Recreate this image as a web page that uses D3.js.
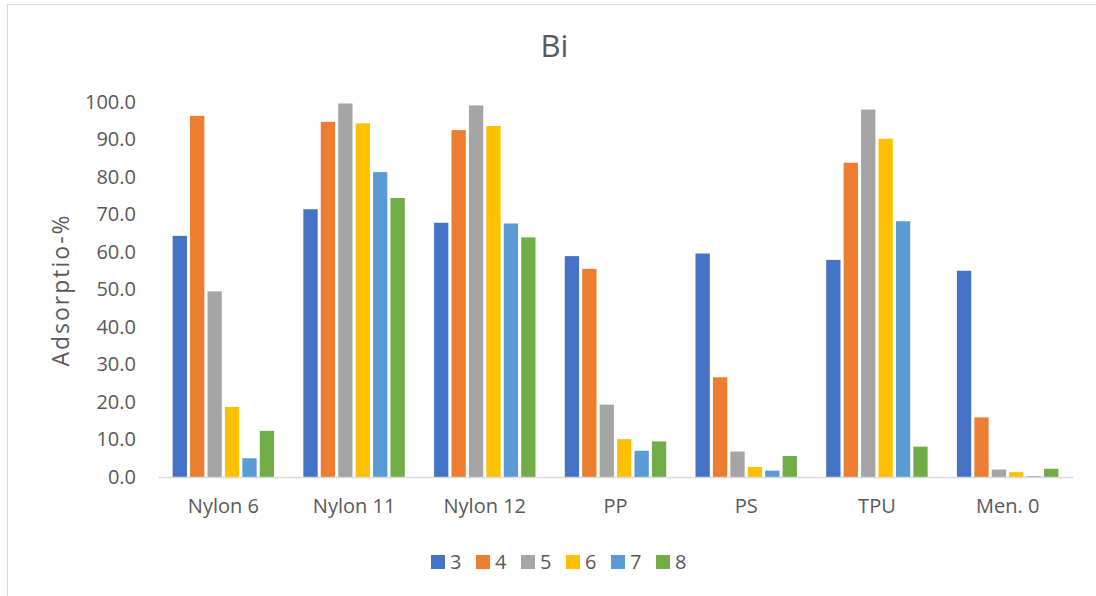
<!DOCTYPE html>
<html>
<head>
<meta charset="utf-8">
<script src="https://cdn.jsdelivr.net/npm/d3@7"></script>
<style>
  html, body { margin: 0; padding: 0; background: #fff; }
  svg { display: block; font-family: "Open Sans", sans-serif; }
</style>
</head>
<body>
<svg id="chart" width="1096" height="596"></svg>
<script>
// Bi adsorption (%) per material, one bar per series
const categories = ["Nylon 6", "Nylon 11", "Nylon 12", "PP", "PS", "TPU", "Men. 0"];
const seriesNames = ["3", "4", "5", "6", "7", "8"];
const series3 = [64.3, 71.4, 67.8, 58.9, 59.6, 57.9, 55.0];
const series4 = [96.3, 94.7, 92.5, 55.5, 26.6, 83.8, 15.9];
const series5 = [49.5, 99.6, 99.1, 19.3, 6.8, 98.0, 2.0];
const series6 = [18.7, 94.3, 93.6, 10.1, 2.7, 90.2, 1.3];
const series7 = [5.0, 81.3, 67.6, 7.0, 1.7, 68.2, 0.2];
const series8 = [12.3, 74.4, 63.9, 9.5, 5.6, 8.1, 2.2];
const yTicks = [0, 10, 20, 30, 40, 50, 60, 70, 80, 90, 100];
const colors = ["#4472C4", "#ED7D31", "#A5A5A5", "#FFC000", "#5B9BD5", "#70AD47"];

const allSeries = [series3, series4, series5, series6, series7, series8];
const rows = categories.map((c, i) => ({
  category: c,
  values: seriesNames.map((s, j) => ({ key: s, value: allSeries[j][i] }))
}));

const svg = d3.select("#chart");
const textColor = "#595959";
const plot = { left: 158, right: 1073, top: 102, bottom: 477 };

// chart frame
svg.append("rect")
  .attr("x", 7.5).attr("y", 4.5)
  .attr("width", 1100).attr("height", 620)
  .attr("fill", "#fff").attr("stroke", "#D9D9D9").attr("stroke-width", 1);

const x0 = d3.scaleBand()
  .domain(categories)
  .range([plot.left, plot.right])
  .paddingInner(0.2)
  .paddingOuter(0.1);

const x1 = d3.scaleBand()
  .domain(seriesNames)
  .range([0, x0.bandwidth()])
  .paddingInner(0.18)
  .paddingOuter(0.09);

const y = d3.scaleLinear().domain([0, 100]).range([plot.bottom, plot.top]);
const color = d3.scaleOrdinal().domain(seriesNames).range(colors);

// title
svg.append("text")
  .attr("x", 554.5).attr("y", 57)
  .attr("text-anchor", "middle")
  .attr("fill", textColor)
  .attr("font-size", 31)
  .text("Bi");

// y axis labels
const yAxis = svg.append("g")
  .attr("transform", `translate(${plot.left},0)`)
  .call(d3.axisLeft(y).tickValues(yTicks).tickFormat(d3.format(".1f")).tickSize(0).tickPadding(22));
yAxis.select(".domain").remove();
yAxis.selectAll("text")
  .attr("fill", textColor)
  .attr("font-size", 20)
  .attr("font-family", "Open Sans, sans-serif");

// bars
const groups = svg.append("g")
  .selectAll("g")
  .data(rows)
  .join("g")
  .attr("transform", d => `translate(${x0(d.category)},0)`);

groups.selectAll("rect")
  .data(d => d.values)
  .join("rect")
  .attr("x", d => x1(d.key))
  .attr("y", d => y(d.value))
  .attr("width", x1.bandwidth())
  .attr("height", d => y(0) - y(d.value))
  .attr("fill", d => color(d.key));

// x axis
const xAxis = svg.append("g")
  .attr("transform", `translate(0,${plot.bottom})`)
  .call(d3.axisBottom(x0).tickSize(0).tickPadding(22));
xAxis.select(".domain")
  .attr("stroke", "#D9D9D9")
  .attr("stroke-width", 1.5);
xAxis.selectAll("text")
  .attr("fill", textColor)
  .attr("font-size", 20)
  .attr("font-family", "Open Sans, sans-serif");

// y axis title
svg.append("text")
  .attr("transform", "translate(69,290) rotate(-90)")
  .attr("text-anchor", "middle")
  .attr("fill", textColor)
  .attr("font-size", 23)
  .attr("letter-spacing", 2)
  .text("Adsorptio-%");

// legend
const legend = svg.append("g")
  .selectAll("g")
  .data(seriesNames)
  .join("g")
  .attr("transform", (d, i) => `translate(${431 + i * 45},555)`);
legend.append("rect")
  .attr("width", 14).attr("height", 14)
  .attr("fill", d => color(d));
legend.append("text")
  .attr("x", 19).attr("y", 7)
  .attr("dy", "0.36em")
  .attr("fill", textColor)
  .attr("font-size", 20)
  .text(d => d);
</script>
</body>
</html>
